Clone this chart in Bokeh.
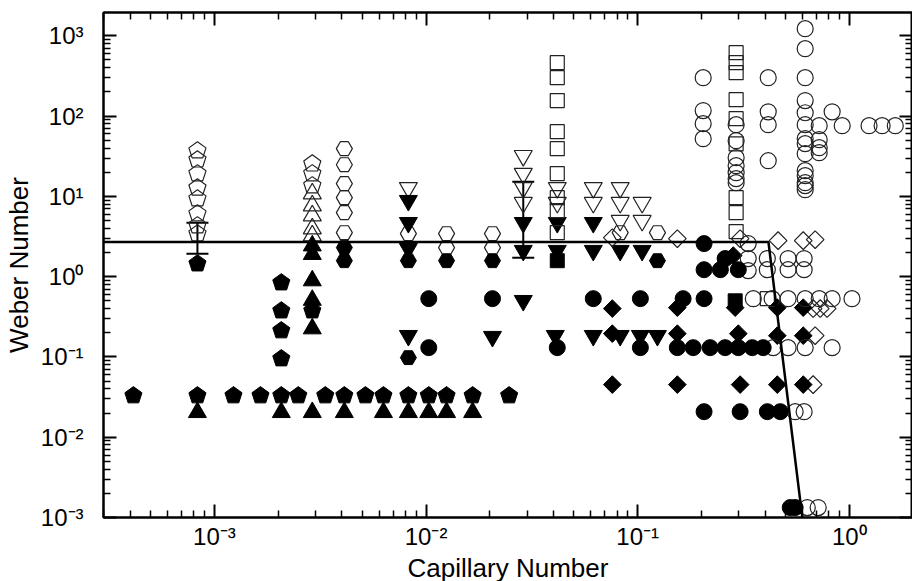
import math
from bokeh.plotting import figure
from bokeh.models import (ColumnDataSource, LogAxis, FixedTicker, CustomJSTickFormatter,
                          Whisker, TeeHead, Range1d, Ngon)
from bokeh.embed import file_html
from bokeh.resources import INLINE

# ---------------- data ----------------
open_pent_x = [8.31e-4, 8.31e-4, 8.31e-4, 8.31e-4, 8.31e-4, 8.31e-4, 8.31e-4, 8.31e-4,
               2.90e-3, 2.90e-3, 2.90e-3]
open_pent_y = [37.1, 28.6, 19.2, 12.8, 9.36, 6.09, 4.32, 3.43, 25.5, 19.2, 13.6]

fill_pent_x = [4.14e-4, 8.31e-4, 8.31e-4, 1.23e-3, 1.65e-3, 2.07e-3, 2.07e-3, 2.07e-3, 2.07e-3,
               2.07e-3, 2.49e-3, 2.90e-3, 3.34e-3, 4.11e-3, 5.17e-3, 6.29e-3, 8.25e-3, 1.03e-2,
               1.25e-2, 1.66e-2, 2.47e-2]
fill_pent_y = [0.033, 1.45, 0.033, 0.033, 0.033, 0.842, 0.377, 0.213, 0.0953,
               0.033, 0.033, 0.377, 0.033, 0.033, 0.033, 0.033, 0.033, 0.033,
               0.033, 0.033, 0.033]

open_tri_x = [2.90e-3, 2.90e-3, 2.90e-3, 2.90e-3, 2.90e-3]
open_tri_y = [10.8, 7.66, 5.75, 3.96, 3.24]

fill_tri_x = [2.90e-3, 2.90e-3, 2.90e-3, 2.90e-3, 2.90e-3, 8.31e-4, 2.07e-3, 2.90e-3, 4.11e-3,
              6.29e-3, 8.25e-3, 1.03e-2, 1.25e-2, 1.66e-2]
fill_tri_y = [2.43, 1.90, 0.892, 0.51, 0.225, 0.0204, 0.0204, 0.0204, 0.0204,
              0.0204, 0.0204, 0.0204, 0.0204, 0.0204]

open_hex_x = [4.11e-3, 4.11e-3, 4.11e-3, 4.11e-3, 4.11e-3, 4.11e-3, 8.25e-3, 1.25e-2, 1.25e-2,
              2.06e-2, 2.06e-2, 8.27e-2, 0.124]
open_hex_y = [39.3, 24.8, 14.4, 9.63, 6.27, 3.53, 3.43, 3.43, 2.30, 3.43, 2.30, 3.53, 3.53]

fill_hex_x = [4.11e-3, 4.11e-3, 8.25e-3, 1.25e-2, 2.06e-2, 0.124, 8.25e-3]
fill_hex_y = [2.30, 1.58, 1.58, 1.58, 1.58, 1.58, 0.098]

open_inv_x = [8.25e-3, 2.88e-2, 2.88e-2, 2.88e-2, 2.88e-2, 4.17e-2, 4.17e-2, 6.17e-2, 6.17e-2,
              8.27e-2, 8.27e-2, 8.27e-2, 0.105, 0.105]
open_inv_y = [12.8, 32.1, 19.2, 12.8, 8.35, 12.8, 8.35, 12.8, 8.35, 12.8, 8.35, 4.98, 8.35, 4.98]

fill_inv_x = [8.25e-3, 8.25e-3, 8.25e-3, 2.88e-2, 2.88e-2, 4.17e-2, 4.17e-2, 6.17e-2, 6.17e-2,
              8.27e-2, 0.105, 8.25e-3, 2.06e-2, 2.88e-2, 4.08e-2, 6.17e-2, 8.27e-2, 0.103, 0.124]
fill_inv_y = [8.84, 4.70, 2.23, 4.70, 2.11, 4.70, 2.11, 4.70, 2.11,
              2.11, 2.11, 0.184, 0.179, 0.502, 0.184, 0.184, 0.184, 0.184, 0.184]

open_sq_x = [4.17e-2, 4.17e-2, 4.17e-2, 4.17e-2, 4.17e-2, 4.17e-2, 4.17e-2, 4.17e-2, 4.17e-2,
             0.292, 0.292, 0.292, 0.292, 0.292, 0.292, 0.292, 0.292, 0.292, 0.41]
open_sq_y = [462, 301, 156, 63.9, 39.3, 19.2, 9.63, 6.64, 3.53,
             616, 462, 347, 160, 92.8, 45.0, 9.63, 6.27, 3.64, 0.532]

fill_sq_x = [4.17e-2, 0.289]
fill_sq_y = [1.58, 0.50]

open_dia_x = [7.59e-2, 0.154, 0.305, 0.461, 0.606, 0.690, 0.675, 0.729, 0.786, 0.690, 0.675]
open_dia_y = [3.06, 2.97, 2.97, 2.81, 2.81, 2.89, 0.400, 0.400, 0.400, 0.184, 0.0452]

fill_dia_x = [7.59e-2, 0.154, 0.289, 0.457, 0.606, 7.59e-2, 0.154, 0.299, 0.457, 0.606,
              7.59e-2, 0.154, 0.305, 0.457, 0.606, 0.283]
fill_dia_y = [0.400, 0.411, 0.411, 0.411, 0.411, 0.195, 0.195, 0.195, 0.184, 0.184,
              0.0452, 0.0452, 0.0452, 0.0452, 0.0452, 1.83]

open_circ_x = [0.204, 0.204, 0.204, 0.204,
               0.292, 0.292, 0.292, 0.292, 0.292, 0.292, 0.292,
               0.414, 0.414, 0.414, 0.414,
               0.619, 0.619, 0.619, 0.619, 0.619, 0.619, 0.619, 0.619, 0.619, 0.619, 0.619,
               0.619, 0.619, 0.619,
               0.721, 0.721, 0.721, 0.721,
               0.830, 0.926, 1.24, 1.43, 1.65,
               0.333, 0.333, 0.333, 0.410, 0.410, 0.514, 0.514, 0.612, 0.612,
               0.352, 0.432, 0.514, 0.619, 0.721, 0.830, 1.03,
               0.437, 0.514, 0.619, 0.830,
               0.555, 0.612,
               0.633, 0.713]
open_circ_y = [301, 117, 80.4, 52.3,
               78.1, 49.4, 30.3, 24.1, 19.7, 16.6, 14.8,
               301, 113, 78.1, 27.8,
               1226, 691, 301, 156, 110, 78.1, 52.3, 45.3, 34.0, 20.9, 18.1,
               14.8, 13.6, 12.1,
               75.9, 50.8, 40.4, 35.0,
               113, 75.9, 75.9, 75.9, 75.9,
               2.58, 1.68, 1.19, 1.68, 1.22, 1.68, 1.22, 1.68, 1.22,
               0.532, 0.532, 0.532, 0.532, 0.532, 0.532, 0.532,
               0.1305, 0.1305, 0.1305, 0.1305,
               0.0208, 0.0208,
               1.33e-3, 1.33e-3]

fill_circ_x = [1.03e-2, 1.03e-2, 2.06e-2, 4.17e-2, 6.17e-2, 0.103, 0.164, 0.206,
               0.103, 0.154, 0.183, 0.220, 0.259, 0.299, 0.348, 0.392,
               0.206, 0.305, 0.410, 0.472, 0.526, 0.555,
               0.206, 0.206, 0.246, 0.299, 0.259]
fill_circ_y = [0.532, 0.1305, 0.532, 0.1305, 0.532, 0.532, 0.532, 0.532,
               0.1305, 0.1305, 0.1305, 0.1305, 0.1305, 0.1305, 0.1305, 0.1305,
               0.0208, 0.0208, 0.0208, 0.0208, 1.33e-3, 1.33e-3,
               2.58, 1.22, 1.22, 1.22, 1.68]

# boundary curve
line_x = [3.0e-4, 0.415, 0.60]
line_y = [2.7, 2.7, 1.0e-3]

# error bars
err_x = [8.31e-4, 2.88e-2]
err_lo = [1.93, 1.72]
err_hi = [4.70, 15.2]

x_major = [1e-3, 1e-2, 1e-1, 1e0]
y_major = [1e-3, 1e-2, 1e-1, 1e0, 1e1, 1e2, 1e3]
x_labels = ["10\u207b\u00b3", "10\u207b\u00b2", "10\u207b\u00b9", "10\u2070"]
y_labels = ["10\u207b\u00b3", "10\u207b\u00b2", "10\u207b\u00b9", "10\u2070",
            "10\u00b9", "10\u00b2", "10\u00b3"]

# ---------------- figure ----------------
FONT = "Liberation Sans"
p = figure(x_axis_type="log", y_axis_type="log",
           x_range=Range1d(2.99e-4, 1.99), y_range=Range1d(1e-3, 1950),
           frame_width=809, frame_height=505,
           min_border_left=103, min_border_right=0, min_border_top=12, min_border_bottom=0,
           output_backend="svg", toolbar_location=None)
p.xgrid.visible = False
p.ygrid.visible = False
p.outline_line_color = "black"
p.outline_line_width = 2
p.background_fill_color = "white"
p.border_fill_color = "white"

x_minor = [m * 10.0 ** k for k in range(-4, 1) for m in range(2, 10)]
y_minor = [m * 10.0 ** k for k in range(-3, 4) for m in range(2, 10)]

lab_code = """
let best = 0;
for (let i = 0; i < tv.length; i++) {
  if (Math.abs(Math.log10(tv[i]) - Math.log10(tick)) < Math.abs(Math.log10(tv[best]) - Math.log10(tick))) best = i;
}
return lb[best];
"""


def style_axis(ax, ticks, minor, labels):
    ax.ticker = FixedTicker(ticks=ticks, minor_ticks=minor)
    ax.axis_line_color = "black"
    ax.axis_line_width = 2
    ax.major_tick_in = 13
    ax.major_tick_out = 0
    ax.minor_tick_in = 7
    ax.minor_tick_out = 0
    ax.major_tick_line_width = 2
    ax.minor_tick_line_width = 1.5
    ax.major_tick_line_color = "black"
    ax.minor_tick_line_color = "black"
    if labels is not None:
        ax.formatter = CustomJSTickFormatter(args=dict(tv=ticks, lb=labels), code=lab_code)
        ax.major_label_text_font = FONT
        ax.major_label_text_font_size = "24px"
        ax.major_label_text_color = "black"
        ax.axis_label_text_font = FONT
        ax.axis_label_text_font_size = "26px"
        ax.axis_label_text_font_style = "normal"
        ax.axis_label_text_color = "black"
    else:
        ax.major_label_text_font_size = "1px"
        ax.major_label_text_alpha = 0
        ax.major_label_standoff = 0


style_axis(p.xaxis[0], x_major, x_minor, x_labels)
style_axis(p.yaxis[0], y_major, y_minor, y_labels)
p.xaxis[0].axis_label = "Capillary Number"
p.yaxis[0].axis_label = "Weber Number"
p.xaxis[0].major_label_standoff = 5
p.xaxis[0].axis_label_standoff = 0
p.yaxis[0].major_label_standoff = 20
p.yaxis[0].axis_label_standoff = 4

top = LogAxis()
style_axis(top, x_major, x_minor, None)
p.add_layout(top, "above")
right = LogAxis()
style_axis(right, y_major, y_minor, None)
p.add_layout(right, "right")

OPEN = dict(fill_color=None, line_color="#222222", line_width=1.2)
FILL = dict(fill_color="black", line_color="black", line_width=1)

# pentagons
for xs, ys, st in [(open_pent_x, open_pent_y, OPEN), (fill_pent_x, fill_pent_y, FILL)]:
    src = ColumnDataSource(dict(x=xs, y=ys))
    g = Ngon(x="x", y="y", radius=9, radius_units="screen", n=5, angle=0, **st)
    p.add_glyph(src, g)

p.scatter(open_tri_x, open_tri_y, marker="triangle", size=18, **OPEN)
p.scatter(fill_tri_x, fill_tri_y, marker="triangle", size=18, **FILL)
p.scatter(open_hex_x, open_hex_y, marker="hex", size=16, **OPEN)
p.scatter(fill_hex_x, fill_hex_y, marker="hex", size=16, **FILL)
p.scatter(open_inv_x, open_inv_y, marker="inverted_triangle", size=18, **OPEN)
p.scatter(fill_inv_x, fill_inv_y, marker="inverted_triangle", size=18, **FILL)
p.scatter(open_sq_x, open_sq_y, marker="square", size=14, **OPEN)
p.scatter(fill_sq_x, fill_sq_y, marker="square", size=14, **FILL)
p.scatter(open_dia_x, open_dia_y, marker="square", size=12.5, angle=math.pi / 4, **OPEN)
p.scatter(fill_dia_x, fill_dia_y, marker="square", size=12.5, angle=math.pi / 4, **FILL)
p.scatter(open_circ_x, open_circ_y, marker="circle", size=16, **OPEN)
p.scatter(fill_circ_x, fill_circ_y, marker="circle", size=16, **FILL)

p.line(line_x, line_y, line_color="black", line_width=2.5)

err_src = ColumnDataSource(dict(x=err_x, lo=err_lo, hi=err_hi))
p.add_layout(Whisker(source=err_src, base="x", lower="lo", upper="hi",
                     line_color="black", line_width=2,
                     lower_head=TeeHead(size=22, line_width=2, line_color="black"),
                     upper_head=TeeHead(size=22, line_width=2, line_color="black")))

open("out.html", "w").write(file_html(p, INLINE))
